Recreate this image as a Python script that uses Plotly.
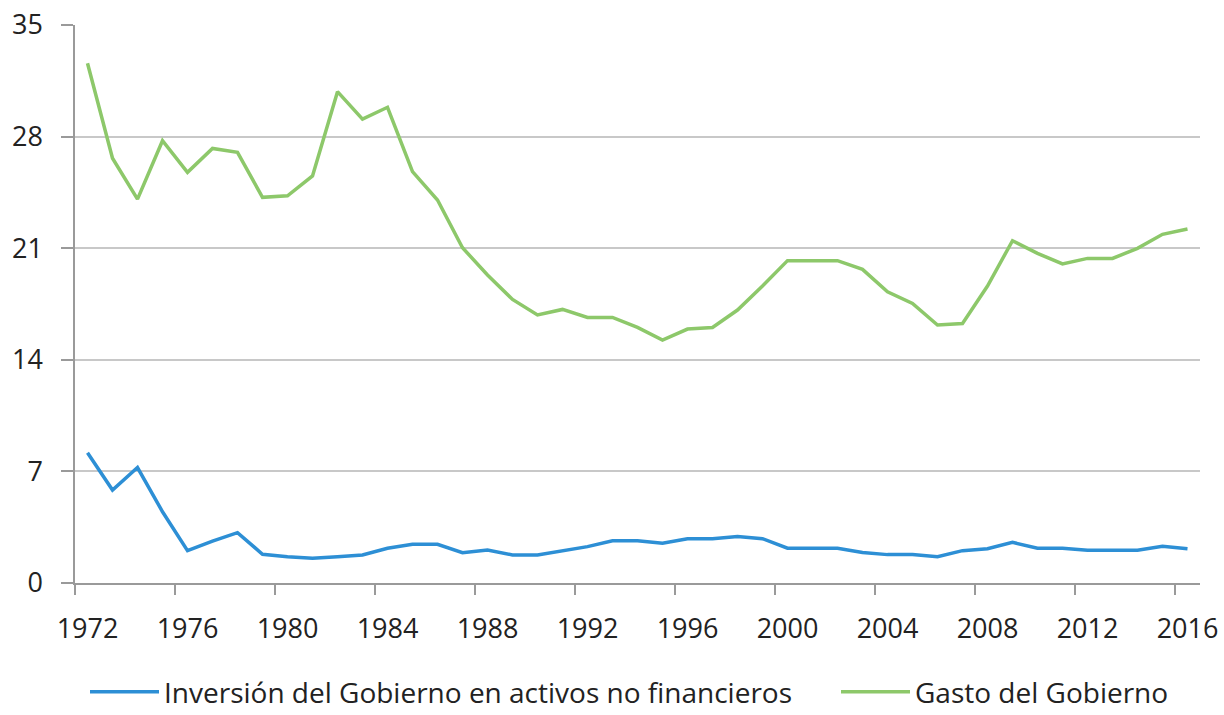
"""Government investment vs. government spending, 1972-2016."""
import plotly.graph_objects as go

years = list(range(1972, 2017))

inversion = [
    8.17, 5.83, 7.24, 4.47, 2.03, 2.63, 3.16, 1.80, 1.65, 1.55,
    1.65, 1.76, 2.18, 2.43, 2.43, 1.90, 2.07, 1.76, 1.76, 2.01,
    2.28, 2.65, 2.65, 2.49, 2.78, 2.78, 2.91, 2.78, 2.18, 2.18,
    2.18, 1.92, 1.78, 1.78, 1.65, 2.03, 2.15, 2.55, 2.18, 2.18,
    2.05, 2.05, 2.05, 2.30, 2.15,
]

gasto = [
    32.60, 26.64, 24.08, 27.74, 25.76, 27.26, 27.01, 24.19, 24.29, 25.53,
    30.82, 29.10, 29.84, 25.80, 24.02, 21.03, 19.32, 17.79, 16.81, 17.16,
    16.66, 16.66, 16.03, 15.24, 15.93, 16.03, 17.12, 18.63, 20.22, 20.22,
    20.22, 19.67, 18.27, 17.54, 16.18, 16.28, 18.63, 21.47, 20.68, 20.01,
    20.36, 20.36, 20.99, 21.87, 22.20,
]

series_names = ["Inversión del Gobierno en activos no financieros", "Gasto del Gobierno"]
label_years = list(range(1972, 2017, 4))
y_ticks = [0, 7, 14, 21, 28, 35]

FONT = "Open Sans, Lato, sans-serif"
AXIS_GREY = "#9a9a9a"
W, H = 1224, 715

fig = go.Figure()
fig.add_trace(go.Scatter(
    x=years, y=inversion, mode="lines", name=series_names[0],
    line=dict(color="#2D8FD5", width=3.5), legend="legend",
))
fig.add_trace(go.Scatter(
    x=years, y=gasto, mode="lines", name=series_names[1],
    line=dict(color="#8DC86A", width=3.5), legend="legend2",
))

# one legend per series so each entry can sit where the original has it
legend_common = dict(
    orientation="h", xref="container", yref="container",
    xanchor="left", y=23 / H, yanchor="middle",
    font=dict(size=28), itemwidth=69, bgcolor="rgba(0,0,0,0)",
)

fig.update_layout(
    width=W, height=H,
    margin=dict(l=75, r=24, t=25, b=132, autoexpand=False),
    paper_bgcolor="white", plot_bgcolor="white",
    font=dict(family=FONT, size=27, color="#222222"),
    showlegend=True,
    legend=dict(legend_common, x=85 / W),
    legend2=dict(legend_common, x=836 / W),
)

# category-style axis: labels under the year, ticks on the boundaries
fig.update_xaxes(
    range=[1971.5, 2016.5],
    tickvals=label_years, ticktext=[str(y) for y in label_years],
    ticks="", ticklabelstandoff=21, ticklabeloverflow="allow",
    showgrid=False, zeroline=False,
    showline=True, linecolor=AXIS_GREY, linewidth=1.5,
    minor=dict(
        tickvals=[y - 0.5 for y in label_years],
        ticks="outside", ticklen=10, tickcolor=AXIS_GREY, tickwidth=1.5,
        showgrid=False,
    ),
)
fig.update_yaxes(
    range=[0, 35], tickvals=y_ticks,
    ticks="outside", ticklen=12, tickcolor=AXIS_GREY, tickwidth=1.5,
    ticklabelstandoff=13, ticklabeloverflow="allow",
    showgrid=True, gridcolor="#c8c8c8", gridwidth=1.5,
    zeroline=False,
    showline=True, linecolor=AXIS_GREY, linewidth=1.5,
)

# drop the browser's default body margin so the figure fills the window
fig.write_html(
    "out.html",
    config={"displayModeBar": False},
    post_script="document.body.style.margin = '0';",
)
